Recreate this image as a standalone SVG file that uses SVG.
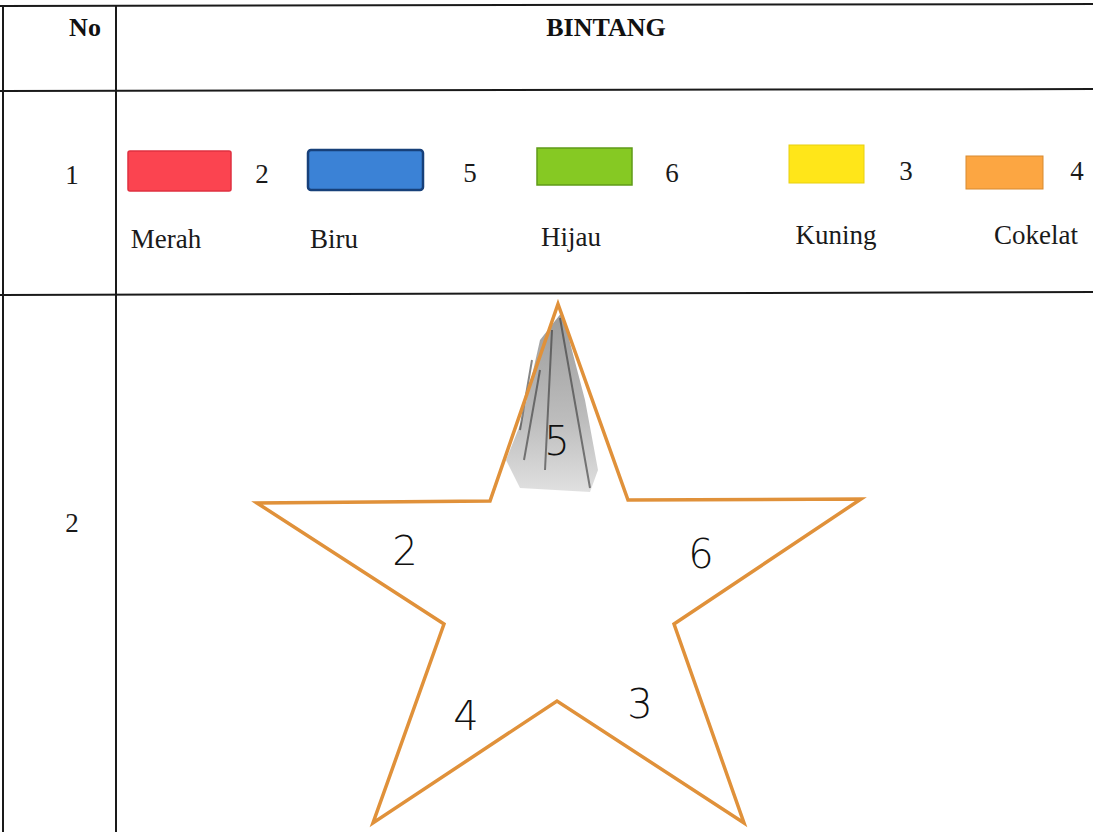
<svg xmlns="http://www.w3.org/2000/svg" width="1093" height="832" viewBox="0 0 1093 832">
<defs>
<style>
.line{stroke:#1a1a1a;stroke-width:2;fill:none}
.hdr{font-family:"Liberation Serif",serif;font-weight:bold;font-size:26px;fill:#111}
.txt{font-family:"Liberation Serif",serif;font-size:27px;fill:#1a1a1a}
.hand{font-family:"DejaVu Sans",sans-serif;font-size:40px;fill:#111;font-weight:200}
.sw{stroke-width:1.5}
</style>
<linearGradient id="pencil" x1="0" y1="0" x2="0" y2="1">
<stop offset="0" stop-color="#666"/>
<stop offset="0.6" stop-color="#999"/>
<stop offset="1" stop-color="#d0d0d0"/>
</linearGradient>
</defs>
<rect width="1093" height="832" fill="#fff"/>
<g id="table">
<line class="line" x1="0" y1="6" x2="1093" y2="4" stroke-width="3"/>
<line class="line" x1="3" y1="6" x2="3" y2="832"/>
<line class="line" x1="116" y1="6" x2="116" y2="832"/>
<line class="line" x1="0" y1="91" x2="1093" y2="89"/>
<line class="line" x1="0" y1="295" x2="1093" y2="292"/>
</g>
<g id="header">
<text class="hdr" x="85" y="36" text-anchor="middle">No</text>
<text class="hdr" x="606" y="36" text-anchor="middle">BINTANG</text>
</g>
<g id="row1">
<text class="txt" x="72" y="184" text-anchor="middle">1</text>
<g id="legend-merah">
<rect x="128" y="151" width="103" height="40" rx="2" fill="#fb4450" stroke="#e03040" class="sw"/>
<text class="txt" x="262" y="183" text-anchor="middle">2</text>
<text class="txt" x="166" y="248" text-anchor="middle">Merah</text>
</g>
<g id="legend-biru">
<rect x="308" y="150" width="115" height="40" rx="3" fill="#3b82d6" stroke="#17407a" stroke-width="2.5"/>
<text class="txt" x="470" y="182" text-anchor="middle">5</text>
<text class="txt" x="334" y="248" text-anchor="middle">Biru</text>
</g>
<g id="legend-hijau">
<rect x="537" y="148" width="95" height="37" fill="#86c923" stroke="#5f9a18" class="sw"/>
<text class="txt" x="672" y="182" text-anchor="middle">6</text>
<text class="txt" x="571" y="246" text-anchor="middle">Hijau</text>
</g>
<g id="legend-kuning">
<rect x="789" y="145" width="75" height="38" fill="#ffe619" stroke="#e8d010" stroke-width="1"/>
<text class="txt" x="906" y="180" text-anchor="middle">3</text>
<text class="txt" x="836" y="244" text-anchor="middle">Kuning</text>
</g>
<g id="legend-cokelat">
<rect x="966" y="156" width="77" height="33" fill="#fca642" stroke="#d78a30" stroke-width="1"/>
<text class="txt" x="1077" y="180" text-anchor="middle">4</text>
<text class="txt" x="1036" y="244" text-anchor="middle">Cokelat</text>
</g>
</g>
<g id="row2">
<text class="txt" x="72" y="532" text-anchor="middle">2</text>
<g id="star">
<polygon points="522,420 540,340 562,312 585,400 598,470 590,492 520,488 506,460" fill="url(#pencil)" opacity="0.65"/>
<path d="M552,330 L545,470 M560,318 L590,488 M540,370 L524,460 M532,360 L520,430" stroke="#333" stroke-width="2" fill="none" opacity="0.6"/>
<polygon points="558,304 628,500 861,499 674,624 744,823 557,701 373,823 444,624 257,503 490,501" fill="none" stroke="#e0913a" stroke-width="3.5" stroke-linejoin="miter"/>
<text class="hand" x="557" y="455" text-anchor="middle">5</text>
<text class="hand" x="405" y="565" text-anchor="middle">2</text>
<text class="hand" x="701" y="568" text-anchor="middle">6</text>
<text class="hand" x="466" y="730" text-anchor="middle">4</text>
<text class="hand" x="640" y="718" text-anchor="middle">3</text>
</g>
</g>
</svg>
